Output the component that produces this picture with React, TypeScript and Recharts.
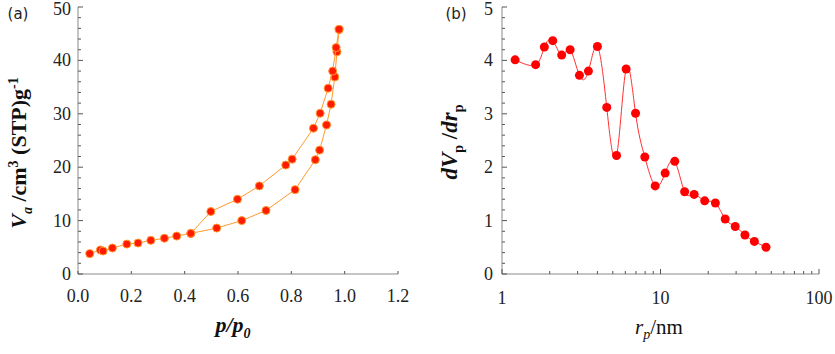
import React from 'react'
import { ComposedChart, Scatter, LineChart, Line, XAxis, YAxis } from 'recharts'

// (a) isotherm, adsorption and desorption branches (p/p0, cm3 STP/g)
const adsP = [0.044, 0.084, 0.094, 0.129, 0.183, 0.225, 0.273, 0.324, 0.37, 0.423, 0.52, 0.614, 0.705, 0.814, 0.89, 0.906, 0.932, 0.949, 0.963, 0.971, 0.979]
const adsV = [3.8, 4.5, 4.3, 4.87, 5.6, 5.8, 6.3, 6.7, 7.1, 7.6, 8.6, 10.0, 11.9, 15.8, 21.4, 23.2, 27.9, 31.8, 36.9, 41.6, 45.8]
const desP = [0.979, 0.968, 0.955, 0.938, 0.908, 0.883, 0.803, 0.779, 0.68, 0.598, 0.498, 0.423]
const desV = [45.8, 42.4, 38.0, 34.8, 30.1, 27.3, 21.5, 20.4, 16.5, 14.0, 11.7, 7.6]

// (b) pore size distribution
const poreR = [1.21, 1.63, 1.85, 2.09, 2.38, 2.69, 3.08, 3.51, 4.0, 4.58, 5.28, 6.07, 6.96, 7.96, 9.26, 10.7, 12.3, 14.2, 16.3, 19.0, 22.2, 25.6, 29.6, 34.1, 39.1, 46.3]
const dVdr = [4.01, 3.92, 4.25, 4.37, 4.1, 4.2, 3.72, 3.8, 4.26, 3.12, 2.22, 3.84, 3.01, 2.19, 1.65, 1.89, 2.11, 1.54, 1.49, 1.37, 1.33, 1.03, 0.89, 0.73, 0.61, 0.5]

// ticks
const pTicks = [0, 0.2, 0.4, 0.6, 0.8, 1.0, 1.2]
const vTicks = Array.from({ length: 26 }, (_, i) => i * 2)
const rTicks = [1, 2, 3, 4, 5, 6, 7, 8, 9, 10, 20, 30, 40, 50, 60, 70, 80, 90, 100]
const dTicks = Array.from({ length: 26 }, (_, i) => Math.round(i * 2) / 10)

const adsData = adsP.map((p, i) => ({ p, v: adsV[i] }))
const desData = desP.map((p, i) => ({ p, v: desV[i] }))
const psdData = poreR.map((r, i) => ({ r, d: dVdr[i] }))

const frame = '#8a8a8a'
const tickCol = '#555'
const serif = '"Liberation Serif", "Times New Roman", serif'

type Side = 'left' | 'right' | 'top' | 'bottom'

const isInt = (v: number) => Math.abs(v - Math.round(v)) < 1e-6
const decade = (v: number) => v === 1 || v === 10 || v === 100

function makeTick(side: Side, isMajor: (v: number) => boolean, label?: (v: number) => string, gap = 6) {
  return (props: any) => {
    const { x, y } = props
    const v = props.payload.value
    const len = isMajor(v) ? 5 : 3
    const dx = side === 'left' ? 1 : side === 'right' ? -1 : 0
    const dy = side === 'bottom' ? -1 : side === 'top' ? 1 : 0
    const txt = label ? label(v) : ''
    return (
      <g fontFamily="Liberation Serif" fontSize={18} fill="#222">
        <line x1={x} y1={y} x2={x + dx * len} y2={y + dy * len} stroke={tickCol} strokeWidth={1} />
        {txt !== '' && side === 'left' && (
          <text x={x - gap} y={Math.max(y, 9)} dy="0.33em" textAnchor="end" fontFamily="Liberation Serif">
            {txt}
          </text>
        )}
        {txt !== '' && side === 'bottom' && (
          <text x={x} y={y + gap} dy="0.35em" textAnchor="middle" fontFamily="Liberation Serif">
            {txt}
          </text>
        )}
      </g>
    )
  }
}

const Dot = (props: any) => (
  <circle cx={props.cx} cy={props.cy} r={4} fill="#ff1a00" stroke="#ff9a30" strokeWidth={1} />
)

const abs = (x: number, y: number, extra: React.CSSProperties = {}): React.CSSProperties => ({
  position: 'absolute',
  left: x,
  top: y,
  transform: 'translate(-50%, -50%)',
  whiteSpace: 'nowrap',
  fontFamily: serif,
  ...extra
})

export default function App() {
  return (
    <div style={{ position: 'absolute', left: 0, top: 0, width: 835, height: 354, background: '#fff' }}>
      <div style={{ position: 'absolute', left: 0, top: 0 }}>
        <ComposedChart width={420} height={354} margin={{ top: 7, right: 22, bottom: 0, left: 0 }}>
          <XAxis
            xAxisId="b"
            dataKey="p"
            type="number"
            domain={[0, 1.2]}
            ticks={pTicks}
            interval={0}
            allowDataOverflow
            height={80}
            tickSize={0}
            tickMargin={0}
            tickLine={false}
            axisLine={{ stroke: frame }}
            tick={makeTick('bottom', () => false, (v) => v.toFixed(1), 22)}
          />
          <XAxis
            xAxisId="t"
            orientation="top"
            type="number"
            domain={[0, 1.2]}
            allowDataOverflow
            height={0}
            tick={false}
            tickLine={false}
            axisLine={{ stroke: frame }}
          />
          <YAxis
            yAxisId="l"
            dataKey="v"
            type="number"
            domain={[0, 50]}
            ticks={vTicks}
            interval={0}
            allowDataOverflow
            width={78}
            tickSize={0}
            tickMargin={0}
            tickLine={false}
            axisLine={{ stroke: frame }}
            tick={makeTick('left', (v) => v % 10 === 0, (v) => (v % 10 === 0 ? String(v) : ''), 7)}
          />
          <YAxis
            yAxisId="r"
            orientation="right"
            type="number"
            domain={[0, 50]}
            ticks={vTicks}
            interval={0}
            allowDataOverflow
            width={0}
            tickSize={0}
            tickMargin={0}
            tickLine={false}
            axisLine={{ stroke: frame }}
            tick={makeTick('right', (v) => v % 10 === 0)}
          />
          <Scatter
            xAxisId="b"
            yAxisId="l"
            data={adsData}
            line={{ stroke: '#ff9a30', strokeWidth: 1 }}
            shape={Dot}
            isAnimationActive={false}
          />
          <Scatter
            xAxisId="b"
            yAxisId="l"
            data={desData}
            line={{ stroke: '#ff9a30', strokeWidth: 1 }}
            shape={Dot}
            isAnimationActive={false}
          />
        </ComposedChart>
      </div>

      <div style={{ position: 'absolute', left: 430, top: 0 }}>
        <LineChart width={405} height={354} data={psdData} margin={{ top: 7, right: 16, bottom: 0, left: 0 }}>
          <XAxis
            xAxisId="b"
            dataKey="r"
            type="number"
            scale="log"
            domain={[1, 100]}
            ticks={rTicks}
            interval={0}
            allowDataOverflow
            height={80}
            tickSize={0}
            tickMargin={0}
            tickLine={false}
            axisLine={{ stroke: frame }}
            tick={makeTick('bottom', decade, (v) => (decade(v) ? String(v) : ''), 24)}
          />
          <XAxis
            xAxisId="t"
            orientation="top"
            type="number"
            scale="log"
            domain={[1, 100]}
            ticks={rTicks}
            interval={0}
            allowDataOverflow
            height={0}
            tickSize={0}
            tickMargin={0}
            tickLine={false}
            axisLine={{ stroke: frame }}
            tick={makeTick('top', decade)}
          />
          <YAxis
            yAxisId="l"
            dataKey="d"
            type="number"
            domain={[0, 5]}
            ticks={dTicks}
            interval={0}
            allowDataOverflow
            width={72}
            tickSize={0}
            tickMargin={0}
            tickLine={false}
            axisLine={{ stroke: frame }}
            tick={makeTick('left', isInt, (v) => (isInt(v) ? String(Math.round(v)) : ''), 9)}
          />
          <YAxis
            yAxisId="r"
            orientation="right"
            type="number"
            domain={[0, 5]}
            ticks={dTicks}
            interval={0}
            allowDataOverflow
            width={0}
            tickSize={0}
            tickMargin={0}
            tickLine={false}
            axisLine={{ stroke: frame }}
            tick={makeTick('right', isInt)}
          />
          <Line
            xAxisId="b"
            yAxisId="l"
            dataKey="d"
            type="natural"
            stroke="#ff3030"
            strokeWidth={1}
            dot={{ r: 4.5, fill: '#ff0000', stroke: 'none' }}
            isAnimationActive={false}
          />
        </LineChart>
      </div>

      <div style={abs(18, 14, { fontFamily: '"DejaVu Sans", sans-serif', fontSize: 15, color: '#222' })}>(a)</div>
      <div style={abs(456, 14, { fontFamily: '"DejaVu Sans", sans-serif', fontSize: 15, color: '#222' })}>(b)</div>

      <div style={abs(21, 153, { transform: 'translate(-50%, -50%) rotate(-90deg)', fontSize: 22, fontWeight: 'bold', color: '#111' })}>
        <i>V</i>
        <sub style={{ fontSize: 14 }}>
          <i>a</i>
        </sub>{' '}
        /cm<sup style={{ fontSize: 14 }}>3</sup> (STP)g<sup style={{ fontSize: 14 }}>-1</sup>
      </div>
      <div style={abs(233, 327, { fontSize: 22, fontWeight: 'bold', fontStyle: 'italic', color: '#111' })}>
        p/p<sub style={{ fontSize: 14 }}>0</sub>
      </div>

      <div style={abs(452, 142, { transform: 'translate(-50%, -50%) rotate(-90deg)', fontSize: 23, fontWeight: 'bold', color: '#111' })}>
        <i>dV</i>
        <sub style={{ fontSize: 14 }}>p</sub> /<i>dr</i>
        <sub style={{ fontSize: 14 }}>p</sub>
      </div>
      <div style={abs(659, 329, { fontSize: 21, color: '#111' })}>
        <i>r</i>
        <sub style={{ fontSize: 14 }}>
          <i>p</i>
        </sub>
        /nm
      </div>
    </div>
  )
}
